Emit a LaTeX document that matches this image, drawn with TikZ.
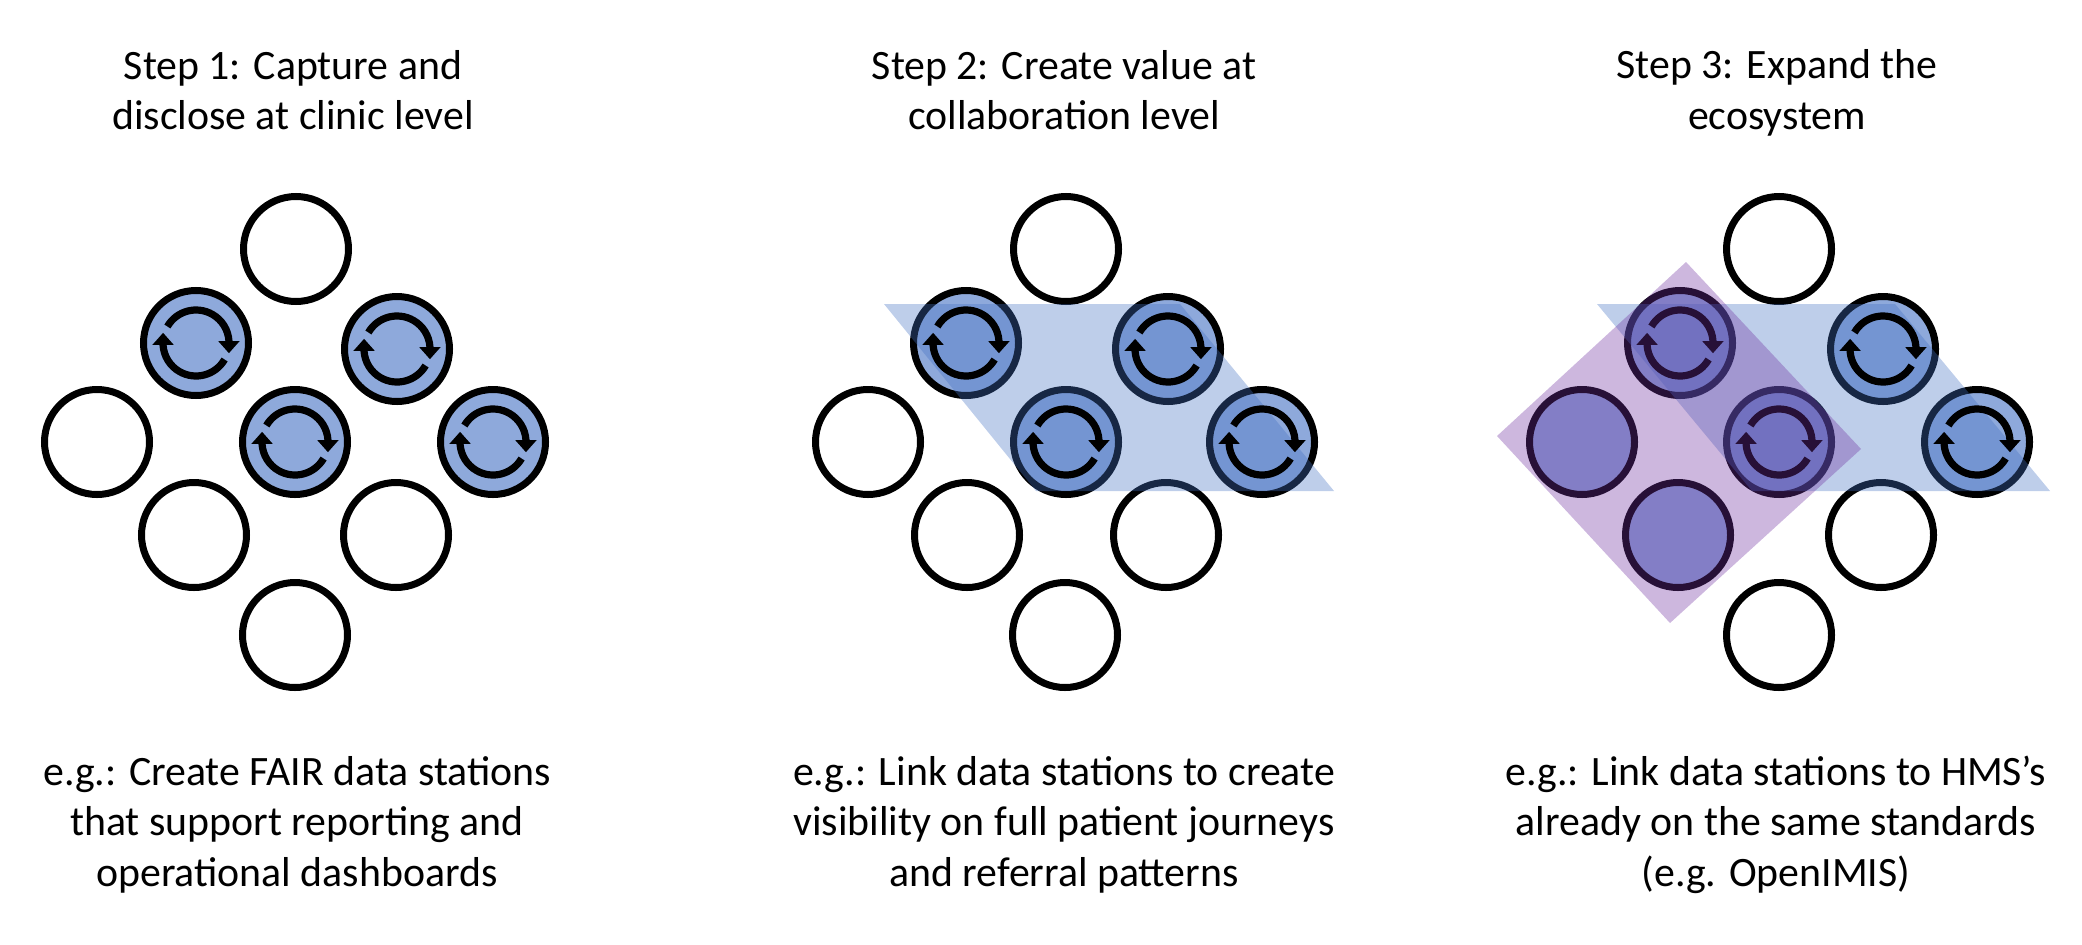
\documentclass[tikz,border=0pt]{standalone}
\usepackage{fontspec}
\setmainfont{Carlito}
\usetikzlibrary{arrows.meta}
\definecolor{stationblue}{HTML}{8EA9DB}
\definecolor{bandblue}{HTML}{4472C4}
\definecolor{bandpurple}{HTML}{7030A0}
\tikzset{
    station/.style={circle, draw=black, line width=0.07cm, minimum size=1.05cm, inner sep=0pt, outer sep=0pt},
    active/.style={station, fill=stationblue},
    loopline/.style={line width=0.072cm, -{Triangle[width=0.205cm, length=0.12cm]}},
    band/.style={fill=bandblue, fill opacity=0.35},
    hmsband/.style={fill=bandpurple, fill opacity=0.35},
    caption/.style={align=center, inner sep=0pt, font=\fontsize{11.9pt}{14.4pt}\selectfont}
}
\newcommand{\loopicon}[1]{
    \draw[loopline] ([shift={(150:0.33)}]#1.center) arc (150:4:0.33) -- ++(0, -0.125);
    \draw[loopline] ([shift={(-30:0.33)}]#1.center) arc (-30:-176:0.33) -- ++(0, 0.125);
}
\begin{document}
\begin{tikzpicture}

            \useasboundingbox (0, 0) rectangle (20.82, -9.44);

            \node (title-1) at (2.93, -0.90) [caption] {Step 1: Capture and\\disclose at clinic level};
            \node (title-2) at (10.64, -0.90) [caption] {Step 2: Create value at\\collaboration level};
            \node (title-3) at (17.77, -0.93) [caption] {Step 3: Expand the\\ecosystem};

            \node (1-1) at (2.96, -2.49) [station] {};
            \node (1-2) at (1.96, -3.43) [active] {};
            \node (1-3) at (3.97, -3.49) [active] {};
            \node (1-4) at (0.97, -4.42) [station] {};
            \node (1-5) at (2.95, -4.42) [active] {};
            \node (1-6) at (4.93, -4.42) [active] {};
            \node (1-7) at (1.94, -5.35) [station] {};
            \node (1-8) at (3.96, -5.35) [station] {};
            \node (1-9) at (2.95, -6.35) [station] {};

            \node (2-1) at (10.66, -2.49) [station] {};
            \node (2-2) at (9.66, -3.43) [active] {};
            \node (2-3) at (11.68, -3.49) [active] {};
            \node (2-4) at (8.68, -4.42) [station] {};
            \node (2-5) at (10.66, -4.42) [active] {};
            \node (2-6) at (12.62, -4.42) [active] {};
            \node (2-7) at (9.67, -5.35) [station] {};
            \node (2-8) at (11.66, -5.35) [station] {};
            \node (2-9) at (10.65, -6.35) [station] {};

            \node (3-1) at (17.79, -2.49) [station] {};
            \node (3-2) at (16.80, -3.43) [active] {};
            \node (3-3) at (18.83, -3.49) [active] {};
            \node (3-4) at (15.82, -4.42) [active] {};
            \node (3-5) at (17.79, -4.42) [active] {};
            \node (3-6) at (19.77, -4.42) [active] {};
            \node (3-7) at (16.78, -5.35) [active] {};
            \node (3-8) at (18.81, -5.35) [station] {};
            \node (3-9) at (17.79, -6.35) [station] {};

            \fill[band] (8.84, -3.04) -- (11.80, -3.04) -- (13.34, -4.91) -- (10.36, -4.91) -- cycle;
            \fill[band] (15.97, -3.04) -- (18.95, -3.04) -- (20.50, -4.91) -- (17.52, -4.91) -- cycle;

            \loopicon{1-2}
            \loopicon{1-3}
            \loopicon{1-5}
            \loopicon{1-6}

            \loopicon{2-2}
            \loopicon{2-3}
            \loopicon{2-5}
            \loopicon{2-6}

            \loopicon{3-2}
            \loopicon{3-3}
            \loopicon{3-5}
            \loopicon{3-6}

            \fill[hmsband] (16.86, -2.62) -- (18.61, -4.49) -- (16.70, -6.23) -- (14.97, -4.36) -- cycle;

            \node (text-1) at (2.97, -8.245) [caption] {e.g.: Create FAIR data stations\\that support reporting and\\operational dashboards};
            \node (text-2) at (10.64, -8.245) [caption] {e.g.: Link data stations to create\\visibility on full patient journeys\\and referral patterns};
            \node (text-3) at (17.76, -8.245) [caption] {e.g.: Link data stations to HMS’s\\already on the same standards\\(e.g. OpenIMIS)};

\end{tikzpicture}
\end{document}
